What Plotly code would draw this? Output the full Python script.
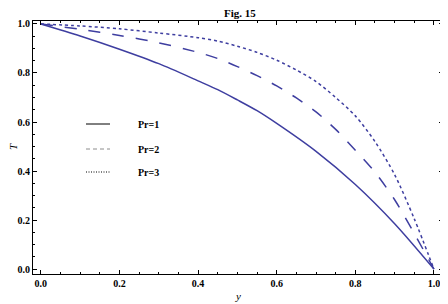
import plotly.graph_objects as go

# Data (T versus y)
y_pr1 = [0, 0.1, 0.2, 0.3, 0.4, 0.45, 0.5, 0.55, 0.6, 0.7, 0.8, 0.9, 1.0]
T_pr1 = [1, 0.951, 0.897, 0.838, 0.768, 0.732, 0.69, 0.646, 0.594, 0.48, 0.345, 0.185, 0]

y_pr2 = [0, 0.1, 0.2, 0.3, 0.4, 0.45, 0.5, 0.55, 0.6, 0.65, 0.7, 0.75, 0.8, 0.85, 0.9, 0.95, 1.0]
T_pr2 = [1, 0.978, 0.953, 0.923, 0.884, 0.859, 0.826, 0.789, 0.747, 0.698, 0.641, 0.57, 0.485, 0.395, 0.283, 0.145, 0]

y_pr3 = [0, 0.1, 0.2, 0.3, 0.4, 0.45, 0.5, 0.55, 0.6, 0.65, 0.7, 0.75, 0.8, 0.85, 0.9, 0.95, 1.0]
T_pr3 = [1, 0.992, 0.98, 0.963, 0.944, 0.93, 0.909, 0.884, 0.852, 0.812, 0.765, 0.70, 0.625, 0.52, 0.385, 0.205, 0]

series_names = ["Pr=1", "Pr=2", "Pr=3"]
tick_vals = [0.0, 0.2, 0.4, 0.6, 0.8, 1.0]
tick_text = ["0.0", "0.2", "0.4", "0.6", "0.8", "1.0"]

LINE = "rgb(62,62,160)"
FONT = "Liberation Serif"

# The page body adds an 8px offset; lay the figure out in page pixels minus that offset
OFF = 8
W, H = 448 - OFF, 304 - OFF
L, R, T, B = 33 - OFF, 5, 21 - OFF, 30
PW, PH = W - L - R, H - T - B


def px_x(p):
    return (p - OFF - L) / PW


def px_y(p):
    return (H - B - (p - OFF)) / PH


fig = go.Figure()
fig.add_trace(go.Scatter(x=y_pr1, y=T_pr1, mode="lines", line=dict(color=LINE, width=1.5, shape="spline", smoothing=0.8), name=series_names[0]))
fig.add_trace(go.Scatter(x=y_pr2, y=T_pr2, mode="lines", line=dict(color=LINE, width=1.5, dash="12px,12px", shape="spline", smoothing=0.8), name=series_names[1]))
fig.add_trace(go.Scatter(x=y_pr3, y=T_pr3, mode="lines", line=dict(color=LINE, width=1.5, dash="3px,3px", shape="spline", smoothing=0.8), name=series_names[2]))

# Legend as in the reference: line samples + labels inside the plot
legend_y_px = [124, 149, 172]
legend_dashes = ["solid", "4px,3px", "1px,1.5px"]
legend_colors = ["black", "rgb(140,140,140)", "black"]
for i, name in enumerate(series_names):
    yy = px_y(legend_y_px[i])
    fig.add_shape(type="line", xref="paper", yref="paper",
                  x0=px_x(86), x1=px_x(110), y0=yy, y1=yy,
                  line=dict(color=legend_colors[i], width=1, dash=legend_dashes[i]))
    fig.add_annotation(xref="paper", yref="paper", x=px_x(136), y=yy,
                       text="<b>" + name + "</b>", showarrow=False, xanchor="left", yanchor="middle",
                       font=dict(family=FONT, size=10, color="black"))

# Axis titles
fig.add_annotation(xref="paper", yref="paper", x=px_x(238), y=px_y(296), text="<i>y</i>",
                   showarrow=False, xanchor="center", yanchor="middle",
                   font=dict(family=FONT, size=11, color="black"))
fig.add_annotation(xref="paper", yref="paper", x=px_x(13), y=px_y(147), text="<i>T</i>",
                   showarrow=False, xanchor="center", yanchor="middle", textangle=-90,
                   font=dict(family=FONT, size=11, color="black"))
# Title
fig.add_annotation(xref="paper", yref="paper", x=px_x(240), y=px_y(13), text="<b>Fig. 15</b>",
                   showarrow=False, xanchor="center", yanchor="middle",
                   font=dict(family=FONT, size=11, color="black"))

axis_common = dict(
    showline=True, linecolor="black", linewidth=1, mirror="allticks",
    ticks="inside", ticklen=4, tickwidth=1, tickcolor="black",
    showgrid=False, zeroline=False, automargin=False,
    tickvals=tick_vals, ticktext=["<b>" + t + "</b>" for t in tick_text],
    tickfont=dict(family=FONT, size=10, color="black"),
    minor=dict(ticks="inside", ticklen=2, tickwidth=1, tickcolor="black", dtick=0.05, tick0=0, showgrid=False),
)

fig.update_layout(
    width=W, height=H,
    margin=dict(l=L, r=R, t=T, b=B),
    paper_bgcolor="white", plot_bgcolor="white",
    xaxis=dict(range=[-0.02, 1.023], **axis_common),
    yaxis=dict(range=[-0.02, 1.012], **axis_common),
    showlegend=False,
)

fig.write_html("out.html")
